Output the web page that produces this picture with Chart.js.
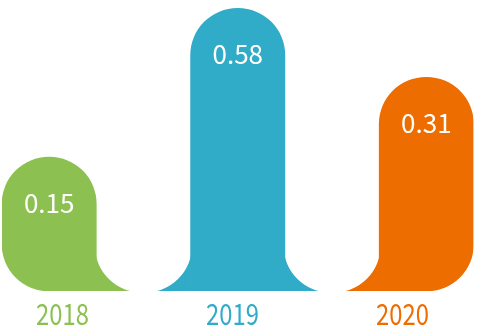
<!DOCTYPE html>
<html><head><meta charset="utf-8">
<script src="https://cdn.jsdelivr.net/npm/chart.js@4/dist/chart.umd.min.js"></script>
<style>html,body{margin:0;padding:0;background:#fff}#wrap{width:478px;height:331px;position:relative}</style>
</head><body><div id="wrap"><canvas id="c"></canvas></div>
<script>
const categories = ['2018', '2019', '2020'];
const values = [0.15, 0.58, 0.31];
const colors = ['#8CC152', '#31ACC8', '#EE6D00'];
// hidden value axis (logarithmic) limits
const Y_MIN = 0.0444;
const Y_MAX = 0.626;
// year-label axis range, in category-index units
const LABEL_MIN = -0.356;
const LABEL_MAX = 2.418;

const R = 200;              // clamped by Chart.js to half the bar width -> fully round ends
const FONT = '"Noto Sans CJK SC", "Noto Sans", sans-serif';
const YEAR_SQUEEZE = 0.82;  // year labels use a narrow letterform

// slots: bar, gap, bar, gap, bar
const slots = [];
categories.forEach((c, i) => { slots.push('b' + i); if (i < categories.length - 1) slots.push('g' + i); });
const isBar = s => s[0] === 'b';
const idx = s => +s.slice(1);

const barData = slots.map(s => isBar(s) ? values[idx(s)] : null);
const barColors = slots.map(s => isBar(s) ? colors[idx(s)] : 'rgba(0,0,0,0)');
const bandLData = slots.map(s => isBar(s) ? null : values[idx(s)]);
const bandLColors = slots.map(s => isBar(s) ? 'rgba(0,0,0,0)' : colors[idx(s)]);
const bandRData = slots.map(s => isBar(s) ? null : values[idx(s) + 1]);
const bandRColors = slots.map(s => isBar(s) ? 'rgba(0,0,0,0)' : colors[idx(s) + 1]);
const gapData = slots.map(s => isBar(s) ? null : Y_MAX);

const common = { barPercentage: 1, categoryPercentage: 1, borderWidth: 0, borderSkipped: false };

const textLabels = {
  id: 'textLabels',
  afterDatasetsDraw(chart) {
    const ctx = chart.ctx;
    // value labels inside the rounded tops
    const meta = chart.getDatasetMeta(0);
    ctx.save();
    ctx.fillStyle = '#ffffff';
    ctx.font = '26px ' + FONT;
    ctx.textAlign = 'center';
    ctx.textBaseline = 'alphabetic';
    meta.data.forEach((el, i) => {
      const s = slots[i];
      if (!isBar(s)) return;
      ctx.fillText(String(values[idx(s)]), el.x, el.y + el.width / 2 + 8.5);
    });
    ctx.restore();
    // year labels along the bottom
    const sc = chart.scales.x2;
    categories.forEach((c, i) => {
      ctx.save();
      ctx.font = '29px ' + FONT;
      ctx.textAlign = 'center';
      ctx.textBaseline = 'alphabetic';
      ctx.fillStyle = colors[i];
      ctx.translate(sc.getPixelForValue(i), chart.chartArea.bottom + 34);
      ctx.scale(YEAR_SQUEEZE, 1);
      ctx.fillText(c, 0, 0);
      ctx.restore();
    });
  }
};

new Chart(document.getElementById('c'), {
  type: 'bar',
  data: {
    labels: slots,
    datasets: [
      Object.assign({ label: 'bars', data: barData, backgroundColor: barColors, grouped: false, order: 1,
        borderRadius: ctx => ({ topLeft: R, topRight: R,
          bottomLeft: ctx.dataIndex === 0 ? R : 0,
          bottomRight: ctx.dataIndex === slots.length - 1 ? R : 0 }) }, common),
      Object.assign({ label: 'gap', data: gapData, backgroundColor: '#ffffff', grouped: false, order: 2, inflateAmount: 1.5,
        borderRadius: { topLeft: 0, topRight: 0, bottomLeft: R, bottomRight: R } }, common),
      Object.assign({ label: 'bandL', data: bandLData, backgroundColor: bandLColors, grouped: true, stack: 'L', order: 3, borderRadius: 0 }, common),
      Object.assign({ label: 'bandR', data: bandRData, backgroundColor: bandRColors, grouped: true, stack: 'R', order: 3, borderRadius: 0 }, common)
    ]
  },
  options: {
    responsive: true,
    maintainAspectRatio: false,
    devicePixelRatio: 1,
    animation: false,
    layout: { padding: { left: 2, right: 4.5, top: 0, bottom: 40 } },
    plugins: { legend: { display: false }, tooltip: { enabled: false } },
    scales: {
      x: { type: 'category', display: false, offset: true },
      y: { type: 'logarithmic', display: false, min: Y_MIN, max: Y_MAX },
      x2: { type: 'linear', display: false, position: 'bottom', bounds: 'data', offset: false,
            grid: { offset: false }, min: LABEL_MIN, max: LABEL_MAX }
    }
  },
  plugins: [textLabels]
});
</script>
</body></html>
